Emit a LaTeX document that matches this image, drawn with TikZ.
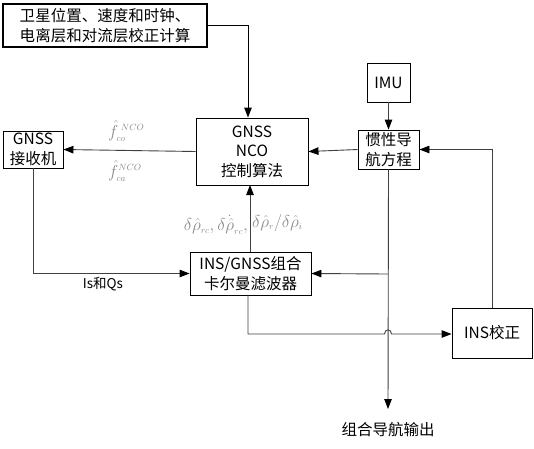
\documentclass[tikz,border=0pt]{standalone}
\usepackage{fontspec}
\setmainfont{Noto Sans CJK SC}
\usetikzlibrary{arrows.meta}
\begin{document}
\begin{tikzpicture}[x=1pt,y=-1pt,
  box/.style={draw=black,line width=0.9pt,fill=white,inner sep=0pt,align=center,
    font=\fontsize{15.5}{19.5}\selectfont},
  conn/.style={draw=black!75,line width=0.9pt},
  arr/.style={conn,-{Triangle[length=10pt,width=7.5pt,color=black]}},
  mlab/.style={text=black!45,inner sep=0pt,font=\fontsize{19}{21}\selectfont}
]
\useasboundingbox[fill=white] (0,0) rectangle (534,448);
% boxes
\node[box,minimum width=204pt,minimum height=43pt,line width=1.3pt] (top) at (105,25.5) {卫星位置、速度和时钟、\\电离层和对流层校正计算};
\node[box,minimum width=112pt,minimum height=67pt] (nco) at (252,151.5) {GNSS\\NCO\\控制算法};
\node[box,minimum width=60pt,minimum height=37pt] (rcv) at (33,149.5) {GNSS\\接收机};
\node[box,minimum width=43pt,minimum height=39pt] (imu) at (388.5,82.5) {IMU};
\node[box,minimum width=61pt,minimum height=39pt] (nav) at (388.5,149.5) {惯性导\\航方程};
\node[box,minimum width=121pt,minimum height=43pt] (kf) at (250.5,273.5) {INS/GNSS组合\\卡尔曼滤波器};
\node[box,minimum width=80pt,minimum height=50pt] (cor) at (492,333) {INS校正};
\node[inner sep=0pt,font=\fontsize{15.5}{19}\selectfont] (out) at (388,430) {组合导航输出};
% coordinates
\coordinate (c1) at (248,25);
\coordinate (tap) at (388,274);
\coordinate (kfb) at (248,334);
\coordinate (c2) at (492,149.5);
% connectors
\draw[arr,draw=black] (top.east |- c1) -- (c1) -- (c1 |- nco.north);
\draw[arr] (imu.south) -- (nav.north);
\draw[arr] (nav.west) -- (nco.east);
\draw[arr] (nco.west) -- (rcv.east);
\draw[arr] (rcv.south) -- (33,273.5) -- (kf.west);
\draw[arr] (250,252) -- (250,185);
\draw[arr] (nav.south) -- (388,409);
\draw[arr] (tap) -- (kf.east);
\draw[arr] (kfb |- kf.south) -- (kfb) -- (384.5,334) .. controls (384.5,328.5) and (391.5,328.5) .. (391.5,334) -- (cor.west |- kfb);
\draw[arr] (cor.north) -- (c2) -- (nav.east);
% labels
\node[inner sep=0pt,font=\fontsize{13.5}{15}\selectfont] (iq) at (103,284) {Is和Qs};
\node[mlab,anchor=west] (f1) at (108,131) {$\hat{f}_{\scriptscriptstyle co}^{\scriptscriptstyle\;NCO}$};
\node[mlab,anchor=west] (f2) at (108,171) {$\hat{f}_{\scriptscriptstyle ca}^{\scriptscriptstyle NCO}$};
\node[mlab,anchor=east] (d1) at (248,225) {$\delta\hat{\rho}_{\scriptscriptstyle rc},\delta\dot{\hat{\rho}}_{\scriptscriptstyle rc},$};
\node[mlab,anchor=west] (d2) at (252,223) {$\delta\hat{\rho}_{\scriptscriptstyle r}/\delta\hat{\rho}_{\scriptscriptstyle i}$};
\end{tikzpicture}
\end{document}
